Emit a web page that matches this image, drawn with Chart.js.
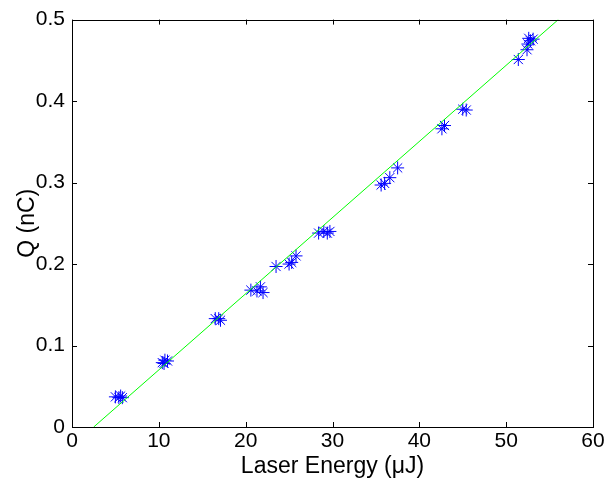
<!DOCTYPE html>
<html>
<head>
<meta charset="utf-8">
<script src="https://cdn.jsdelivr.net/npm/chart.js@4/dist/chart.umd.min.js"></script>
<style>
  html, body { margin: 0; padding: 0; background: #fff; }
  #wrap { width: 607px; height: 478px; }
</style>
</head>
<body>
<div id="wrap"><canvas id="qChart" width="607" height="478"></canvas></div>
<script>
// --- DADOS ---
const energy = [5.0, 5.4, 5.8, 5.6, 10.4, 10.7, 11.0, 10.6, 16.5, 16.9, 17.1,
  20.6, 21.3, 21.7, 22.0, 23.5, 25.0, 25.3, 25.8, 28.4, 29.0, 29.4, 29.7,
  35.6, 36.0, 36.6, 37.5, 42.6, 42.9, 45.0, 45.4,
  51.4, 52.4, 52.5, 52.6, 53.1, 52.8];
const charge = [0.037, 0.036, 0.036, 0.038, 0.079, 0.082, 0.081, 0.078, 0.133, 0.133, 0.131,
  0.168, 0.167, 0.172, 0.165, 0.197, 0.200, 0.202, 0.210, 0.238, 0.240, 0.238, 0.240,
  0.297, 0.299, 0.306, 0.318, 0.366, 0.370, 0.390, 0.389,
  0.451, 0.463, 0.470, 0.477, 0.476, 0.474];
// reta de ajuste
const fitEnergy = [2.5, 56.0];
const fitCharge = [0, 0.5];

const xTicks = [0, 10, 20, 30, 40, 50, 60];
const yTicks = [0, 0.1, 0.2, 0.3, 0.4, 0.5];

// caixa + ticks para dentro (estilo MATLAB)
const boxPlugin = {
  id: 'boxTicks',
  afterDatasetsDraw(chart) {
    const { ctx, chartArea: a, scales } = chart;
    const len = 5;
    ctx.save();
    ctx.strokeStyle = '#000';
    ctx.lineWidth = 1;
    ctx.beginPath();
    xTicks.forEach(v => {
      const px = Math.round(scales.x.getPixelForValue(v)) + 0.5;
      ctx.moveTo(px, a.bottom); ctx.lineTo(px, a.bottom - len);
      ctx.moveTo(px, a.top); ctx.lineTo(px, a.top + len);
    });
    yTicks.forEach(v => {
      const py = Math.round(scales.y.getPixelForValue(v)) + 0.5;
      ctx.moveTo(a.left, py); ctx.lineTo(a.left + len, py);
      ctx.moveTo(a.right, py); ctx.lineTo(a.right - len, py);
    });
    ctx.stroke();
    ctx.strokeRect(Math.round(a.left) + 0.5, Math.round(a.top) + 0.5,
      Math.round(a.right - a.left), Math.round(a.bottom - a.top));
    ctx.restore();
  }
};

const tickFont = { family: 'Liberation Sans, Arial, sans-serif', size: 21 };
const titleFont = { family: 'Liberation Sans, Arial, sans-serif', size: 23, lineHeight: 1 };

new Chart(document.getElementById('qChart').getContext('2d'), {
  type: 'scatter',
  data: {
    datasets: [
      {
        label: 'fit',
        type: 'line',
        data: fitEnergy.map((x, i) => ({ x: x, y: fitCharge[i] })),
        borderColor: '#00ff00',
        borderWidth: 1,
        pointRadius: 0,
        fill: false
      },
      {
        label: 'Q',
        data: energy.map((x, i) => ({ x: x, y: charge[i] })),
        pointStyle: 'star',
        pointRadius: 6.5,
        borderColor: '#0000ff',
        backgroundColor: '#0000ff',
        pointBorderWidth: 1
      }
    ]
  },
  options: {
    responsive: false,
    animation: false,
    layout: { padding: { top: 14, right: 14, left: 0, bottom: 0 } },
    plugins: { legend: { display: false }, tooltip: { enabled: false } },
    scales: {
      x: {
        type: 'linear', min: 0, max: 60,
        afterBuildTicks: s => { s.ticks = xTicks.map(v => ({ value: v })); },
        afterFit: s => { s.height = 51; },
        grid: { display: false, drawTicks: false },
        border: { display: false },
        ticks: { color: '#000', font: tickFont, padding: 2, maxRotation: 0 },
        title: { display: true, text: 'Laser Energy (\u03bcJ)', color: '#000', font: titleFont, padding: { top: 0, bottom: 0 } }
      },
      y: {
        type: 'linear', min: 0, max: 0.5,
        afterBuildTicks: s => { s.ticks = yTicks.map(v => ({ value: v })); },
        afterFit: s => { s.width = 72; },
        grid: { display: false, drawTicks: false },
        border: { display: false },
        ticks: { color: '#000', font: tickFont, padding: 7, callback: v => String(+v.toFixed(1)) },
        title: { display: true, text: 'Q (nC)', color: '#000', font: titleFont, padding: { top: 16, bottom: 0 } }
      }
    }
  },
  plugins: [boxPlugin]
});
</script>
</body>
</html>
